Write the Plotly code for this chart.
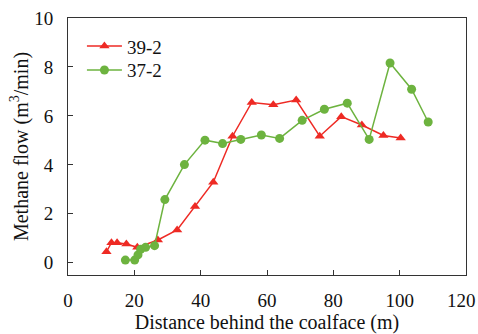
import plotly.graph_objects as go

x_39 = [11.6, 13.1, 14.8, 17.6, 20.9, 27.1, 32.9, 38.3, 43.8, 49.6, 55.4, 61.9, 68.8, 75.9, 82.4, 88.6, 95.1, 100.3]
y_39 = [0.45, 0.82, 0.82, 0.77, 0.63, 0.93, 1.34, 2.30, 3.29, 5.17, 6.55, 6.46, 6.65, 5.17, 5.97, 5.63, 5.20, 5.10]

x_37 = [17.3, 20.1, 21.1, 21.9, 23.4, 26.1, 29.2, 35.1, 41.3, 46.6, 52.1, 58.3, 63.8, 70.6, 77.3, 84.2, 90.8, 97.1, 103.6, 108.6]
y_37 = [0.11, 0.11, 0.32, 0.55, 0.63, 0.70, 2.58, 4.01, 5.01, 4.87, 5.04, 5.22, 5.08, 5.82, 6.27, 6.52, 5.04, 8.16, 7.09, 5.75]

x_ticks = [0, 20, 40, 60, 80, 100, 120]
x_tick_labels = ["0", "20", "40", "60", "80", "100", "120"]
y_ticks = [0, 2, 4, 6, 8, 10]
y_tick_labels = ["0", "2", "4", "6", "8", "10"]

RED = "#ee2a24"
GREEN = "#6db33f"
FONT = "'Liberation Serif', 'Times New Roman', Times, serif"

# last x label nudged left so it stays inside the window
x_text = x_tick_labels[:-1] + [x_tick_labels[-1] + "\u00a0\u00a0"]

fig = go.Figure()
fig.add_trace(go.Scatter(x=x_39, y=y_39, mode="lines+markers", name="39-2",
                         line=dict(color=RED, width=1.5), legend="legend",
                         marker=dict(symbol="triangle-up", size=9, color=RED)))
fig.add_trace(go.Scatter(x=x_37, y=y_37, mode="lines+markers", name="37-2",
                         line=dict(color=GREEN, width=1.5), legend="legend2",
                         marker=dict(symbol="circle", size=9, color=GREEN)))

axis_common = dict(showgrid=False, zeroline=False, showline=True, linecolor="#333",
                   linewidth=1, mirror=True, ticks="inside", ticklen=5, tickcolor="#333",
                   automargin=False, ticklabeloverflow="allow",
                   tickfont=dict(family=FONT, size=19, color="#111"))

legend_common = dict(xanchor="left", yanchor="middle", bgcolor="rgba(0,0,0,0)",
                     font=dict(family=FONT, size=19), itemwidth=35)

fig.update_layout(
    width=478, height=334,
    margin=dict(l=68, r=12, t=18, b=59),
    paper_bgcolor="white", plot_bgcolor="white",
    font=dict(family=FONT, color="#111"),
    showlegend=True,
    legend=dict(x=0.035, y=0.89, **legend_common),
    legend2=dict(x=0.035, y=0.797, **legend_common),
    xaxis=dict(range=[0, 120], tickvals=x_ticks, ticktext=x_text, ticklabelstandoff=8,
               title=dict(text="Distance behind the coalface (m)", font=dict(family=FONT, size=20), standoff=6),
               **axis_common),
    yaxis=dict(range=[-0.5, 10], tickvals=y_ticks, ticktext=y_tick_labels, ticklabelstandoff=10,
               title=dict(text="Methane flow (m<sup>3</sup>/min)", font=dict(family=FONT, size=20), standoff=0),
               **axis_common),
)

# remove the default page margin so the figure fills the window exactly
fig.write_html("out.html", config={"displayModeBar": False},
               post_script="document.body.style.margin='0';document.body.style.overflow='hidden';")
